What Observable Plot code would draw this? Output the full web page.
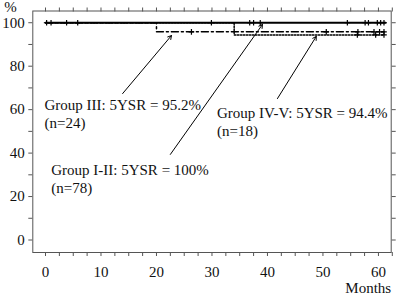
<!DOCTYPE html>
<html>
<head>
<meta charset="utf-8">
<script src="https://cdn.jsdelivr.net/npm/d3@7"></script>
<script src="https://cdn.jsdelivr.net/npm/@observablehq/plot@0.6"></script>
<style>
  html, body { margin: 0; padding: 0; background: #fff; }
  svg, svg text { font-family: "Liberation Serif", "Times New Roman", serif !important; }
</style>
</head>
<body>
<div id="chart"></div>
<script>
// Kaplan–Meier step curves (months, survival %)
const groupI_II_time = [0, 61.3];
const groupI_II_surv = [100, 100];
const groupIII_time = [0, 20, 61];
const groupIII_surv = [100, 95.8, 95.8];
const groupIV_V_time = [0, 34, 61];
const groupIV_V_surv = [100, 94.4, 94.4];

// Censoring marks (months)
const groupI_II_censor = [0.2, 1, 3.8, 5.8, 29.9, 36.8, 37.5, 38.7, 54.4, 57.6, 58.2, 59.8, 60.4, 61];
const groupIII_censor = [26.3, 50.6, 56.3, 59.2, 60.2, 61];
const groupIV_V_censor = [56.2, 59.5, 61];

// Axis ticks
const xTickLabels = [0, 10, 20, 30, 40, 50, 60];
const yTickLabels = [0, 20, 40, 60, 80, 100];

// Annotations: text anchor and arrow (data coordinates)
const annotText = ["Group III: 5YSR = 95.2%\n(n=24)", "Group I-II: 5YSR = 100%\n(n=78)", "Group IV-V: 5YSR = 94.4%\n(n=18)"];
const annotX = [-0.18, 1.03, 30.9];
const annotY = [65.5, 35.9, 62.2];
const arrowX1 = [13.9, 22.5, 41.8];
const arrowY1 = [67.4, 39.4, 65.1];
const arrowX2 = [22.7, 39.1, 48.8];
const arrowY2 = [94.1, 99.2, 93.7];

const curve = (t, s) => t.map((d, i) => ({month: d, surv: s[i]}));
const survAt = (t, s, m) => { let v = s[0]; t.forEach((d, i) => { if (m >= d) v = s[i]; }); return v; };
const censor = (c, t, s) => c.map(m => ({month: m, surv: survAt(t, s, m)}));
const annots = annotText.map((txt, i) => ({txt, x: annotX[i], y: annotY[i], x1: arrowX1[i], y1: arrowY1[i], x2: arrowX2[i], y2: arrowY2[i]}));

const plusSymbol = {
  draw(ctx, size) {
    const r = Math.sqrt(size / Math.PI);
    ctx.moveTo(-r, 0); ctx.lineTo(r, 0);
    ctx.moveTo(0, -r); ctx.lineTo(0, r);
  }
};

const FONT = "Liberation Serif";
const xTicks = d3.range(0, 62.6, 2.5);
const yTicks = d3.range(0, 101, 10);

const chart = Plot.plot({
  width: 398,
  height: 295,
  marginLeft: 32.3,
  marginRight: 7.3,
  marginTop: 10.5,
  marginBottom: 43,
  style: "font-family: 'Liberation Serif', serif; font-size: 15px; color: #000; background: #fff;",
  x: {domain: [-2.29, 62.3]},
  y: {domain: [-5.75, 105.4]},
  marks: [
    Plot.frame({stroke: "#555", strokeWidth: 1}),
    Plot.axisX({anchor: "bottom", ticks: xTicks, tickSize: 4, tickPadding: 10, stroke: "#555", fontFamily: FONT, fontSize: 15,
      tickFormat: d => xTickLabels.includes(d) ? String(d) : "", label: null, fill: "#111"}),
    Plot.axisX({anchor: "top", ticks: xTicks, tickSize: 4, stroke: "#555", tickFormat: () => "", label: null}),
    Plot.axisY({anchor: "left", ticks: yTicks, tickSize: 4, tickPadding: 4, stroke: "#555", fontFamily: FONT, fontSize: 15,
      tickFormat: d => yTickLabels.includes(d) ? String(d) : "", label: null, fill: "#111"}),
    Plot.axisY({anchor: "right", ticks: yTicks, tickSize: 4, stroke: "#555", tickFormat: () => "", label: null}),
    Plot.text(["%"], {frameAnchor: "top-left", textAnchor: "start", lineAnchor: "bottom", dx: -28.5, dy: 0.5, fill: "#111", fontFamily: FONT, fontSize: 15}),
    Plot.text(["Months"], {frameAnchor: "bottom-right", textAnchor: "end", lineAnchor: "bottom", dy: 40.5, fill: "#111", fontFamily: FONT, fontSize: 15}),
    Plot.line(curve(groupIV_V_time, groupIV_V_surv), {x: "month", y: "surv", curve: "step-after", stroke: "#000", strokeWidth: 1.5, strokeDasharray: "1.5,1.5"}),
    Plot.line(curve(groupIII_time, groupIII_surv), {x: "month", y: "surv", curve: "step-after", stroke: "#000", strokeWidth: 1.5, strokeDasharray: "7,3,2,3"}),
    Plot.line(curve(groupI_II_time, groupI_II_surv), {x: "month", y: "surv", curve: "step-after", stroke: "#000", strokeWidth: 1.8}),
    Plot.dot(censor(groupI_II_censor, groupI_II_time, groupI_II_surv), {x: "month", y: "surv", symbol: plusSymbol, r: 2.8, stroke: "#000", strokeWidth: 1.2, fill: "none"}),
    Plot.dot(censor(groupIII_censor, groupIII_time, groupIII_surv), {x: "month", y: "surv", symbol: plusSymbol, r: 2.8, stroke: "#000", strokeWidth: 1.2, fill: "none"}),
    Plot.dot(censor(groupIV_V_censor, groupIV_V_time, groupIV_V_surv), {x: "month", y: "surv", symbol: plusSymbol, r: 2.8, stroke: "#000", strokeWidth: 1.2, fill: "none"}),
    Plot.arrow(annots, {x1: "x1", y1: "y1", x2: "x2", y2: "y2", stroke: "#000", strokeWidth: 1, headLength: 6, bend: 0}),
    Plot.text(annots, {x: "x", y: "y", text: "txt", textAnchor: "start", lineAnchor: "top", lineHeight: 1.2, fill: "#111", fontFamily: FONT, fontSize: 15})
  ]
});
document.getElementById("chart").appendChild(chart);
</script>
</body>
</html>
